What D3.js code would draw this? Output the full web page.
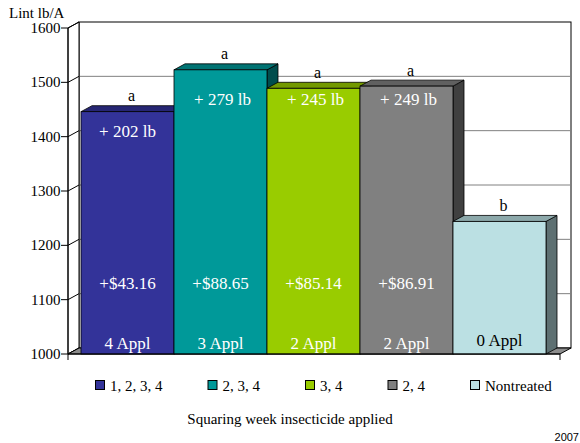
<!DOCTYPE html>
<html><head><meta charset="utf-8">
<script src="https://cdn.jsdelivr.net/npm/d3@7"></script>
<style>body{margin:0;background:#fff}svg{display:block}</style>
</head><body>
<svg id="c" width="580" height="443"></svg>
<script>
const categories = ["1, 2, 3, 4", "2, 3, 4", "3, 4", "2, 4", "Nontreated"];
const yields = [1446, 1523, 1489, 1493, 1244];
const sigLetters = ["a", "a", "a", "a", "b"];
const gainLabels = ["+ 202 lb", "+ 279 lb", "+ 245 lb", "+ 249 lb", ""];
const dollarLabels = ["+$43.16", "+$88.65", "+$85.14", "+$86.91", ""];
const applLabels = ["4 Appl", "3 Appl", "2 Appl", "2 Appl", "0 Appl"];
const colors = ["#333399", "#009999", "#99cc00", "#808080", "#bbe0e3"];
const yTicks = [1000, 1100, 1200, 1300, 1400, 1500, 1600];

const svg = d3.select("#c");
const serif = "'Liberation Serif','Times New Roman',serif";
const DX = 11, DY = -6;
const x0 = 68, x1 = 560;
const y = d3.scaleLinear().domain([1000, 1600]).range([354, 28]);
const x = d3.scaleBand().domain(categories).range([81, 546]).paddingInner(0);
const bw = x.bandwidth();
const shade = (c, k) => { const r = d3.rgb(c); return d3.rgb(r.r * k, r.g * k, r.b * k).formatHex(); };
const poly = pts => pts.map(p => p.join(",")).join(" ");

// back wall
svg.append("rect").attr("x", x0 + DX).attr("y", y(1600) + DY)
  .attr("width", x1 - x0).attr("height", y(1000) - y(1600))
  .attr("fill", "#fff").attr("stroke", "#000").attr("stroke-width", 1);
svg.selectAll(".grid").data(yTicks.filter(v => v > 1000 && v < 1600)).join("line")
  .attr("x1", x0 + DX).attr("x2", x1 + DX)
  .attr("y1", d => y(d) + DY).attr("y2", d => y(d) + DY)
  .attr("stroke", "#808080").attr("stroke-width", 1);
// left wall
svg.append("polygon").attr("points", poly([[x0, y(1600)], [x0 + DX, y(1600) + DY], [x0 + DX, y(1000) + DY], [x0, y(1000)]]))
  .attr("fill", "#fff").attr("stroke", "#000");
svg.selectAll(".lgrid").data(yTicks).join("line")
  .attr("x1", x0).attr("x2", x0 + DX)
  .attr("y1", d => y(d)).attr("y2", d => y(d) + DY)
  .attr("stroke", "#000");
// floor
svg.append("polygon").attr("points", poly([[x0, y(1000)], [x1, y(1000)], [x1 + DX, y(1000) + DY], [x0 + DX, y(1000) + DY]]))
  .attr("fill", "#8c8c8c").attr("stroke", "#000");

// bars
categories.forEach((c, i) => {
  const L = x(c), R = L + bw, T = y(yields[i]), B = y(1000);
  const g = svg.append("g");
  g.append("polygon").attr("points", poly([[R, T], [R + DX, T + DY], [R + DX, B + DY], [R, B]]))
    .attr("fill", shade(colors[i], 0.5)).attr("stroke", "#000").attr("stroke-width", 0.8);
  g.append("polygon").attr("points", poly([[L, T], [R, T], [R + DX, T + DY], [L + DX, T + DY]]))
    .attr("fill", shade(colors[i], 0.75)).attr("stroke", "#000").attr("stroke-width", 0.8);
  g.append("rect").attr("x", L).attr("y", T).attr("width", bw).attr("height", B - T)
    .attr("fill", colors[i]).attr("stroke", "#000").attr("stroke-width", 0.8);
});

// labels
const cx = c => x(c) + bw / 2;
svg.selectAll(".sig").data(categories).join("text")
  .attr("x", c => cx(c) + 4).attr("y", (c, i) => y(yields[i]) + DY - 4.5)
  .attr("text-anchor", "middle").attr("font-family", serif).attr("font-size", 16)
  .attr("fill", "#000").text((c, i) => sigLetters[i]);
svg.selectAll(".gain").data(categories).join("text")
  .attr("x", (c, i) => cx(c) + (i === 0 ? 0 : 2)).attr("y", (c, i) => i === 0 ? y(yields[0]) + 25 : 105)
  .attr("text-anchor", "middle").attr("font-family", serif).attr("font-size", 17)
  .attr("fill", "#fff").text((c, i) => gainLabels[i]);
svg.selectAll(".dol").data(categories).join("text")
  .attr("x", c => cx(c)).attr("y", 289)
  .attr("text-anchor", "middle").attr("font-family", serif).attr("font-size", 17)
  .attr("fill", "#fff").text((c, i) => dollarLabels[i]);
svg.selectAll(".appl").data(categories).join("text")
  .attr("x", c => cx(c)).attr("y", (c, i) => i === 4 ? 345.5 : 349)
  .attr("text-anchor", "middle").attr("font-family", serif).attr("font-size", 17)
  .attr("fill", (c, i) => i === 4 ? "#000" : "#fff").text((c, i) => applLabels[i]);

// axes
svg.append("line").attr("x1", x0).attr("x2", x0).attr("y1", y(1600)).attr("y2", y(1000) + 6).attr("stroke", "#000");
svg.append("line").attr("x1", x0).attr("x2", x1).attr("y1", y(1000)).attr("y2", y(1000)).attr("stroke", "#000");
svg.append("line").attr("x1", x1).attr("x2", x1).attr("y1", y(1000)).attr("y2", y(1000) + 6).attr("stroke", "#000");
svg.selectAll(".tk").data(yTicks).join("line")
  .attr("x1", 61).attr("x2", x0).attr("y1", d => y(d)).attr("y2", d => y(d)).attr("stroke", "#000");
svg.selectAll(".tl").data(yTicks).join("text")
  .attr("x", 60.5).attr("y", d => y(d) + 5).attr("text-anchor", "end")
  .attr("font-family", serif).attr("font-size", 15).attr("fill", "#000").text(d => d);
svg.append("text").attr("x", 9).attr("y", 18).attr("font-family", serif).attr("font-size", 15).text("Lint lb/A");

// legend
let lx = 95;
categories.forEach((c, i) => {
  svg.append("rect").attr("x", lx + 0.5).attr("y", 380.5).attr("width", 9).attr("height", 9)
    .attr("fill", colors[i]).attr("stroke", "#000");
  const t = svg.append("text").attr("x", lx + 15).attr("y", 390.5)
    .attr("font-family", serif).attr("font-size", 15).text(c);
  lx += 15 + t.node().getComputedTextLength() + 45;
});
svg.append("text").attr("x", 290).attr("y", 424).attr("text-anchor", "middle")
  .attr("font-family", serif).attr("font-size", 15).text("Squaring week insecticide applied");
svg.append("text").attr("x", 579).attr("y", 441).attr("text-anchor", "end")
  .attr("font-family", "'Liberation Sans',Arial,sans-serif").attr("font-size", 11).text("2007");
</script>
</body></html>
